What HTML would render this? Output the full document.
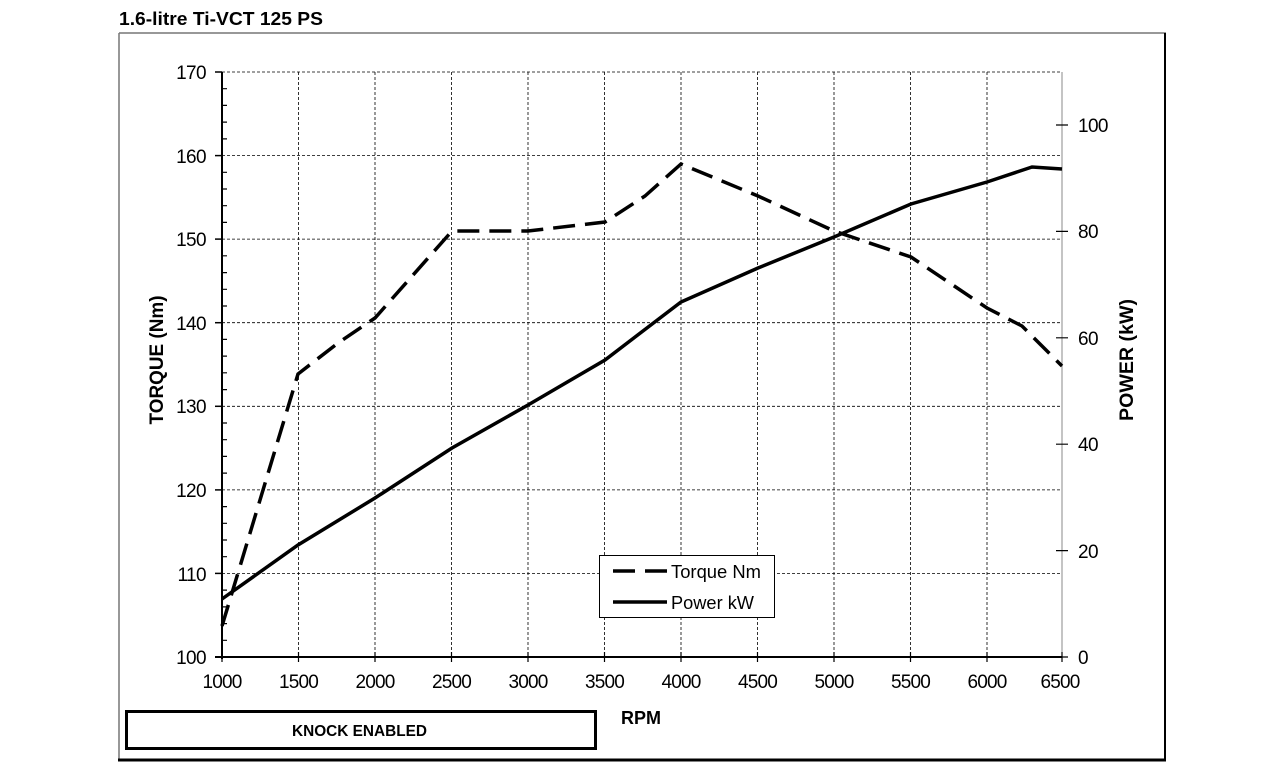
<!DOCTYPE html>
<html><head><meta charset="utf-8"><style>
body{margin:0;background:#fff;}
svg text{font-family:"Liberation Sans",Arial,sans-serif;}
</style></head><body>
<svg width="1272" height="775" viewBox="0 0 1272 775" xmlns="http://www.w3.org/2000/svg">
<rect width="1272" height="775" fill="#fff"/>
<text x="119" y="25" font-size="18" font-weight="bold" fill="#000" textLength="204" lengthAdjust="spacingAndGlyphs">1.6-litre Ti-VCT 125 PS</text>
<line x1="119" y1="33" x2="1166" y2="33" stroke="#777" stroke-width="1.5"/>
<line x1="119" y1="33" x2="119" y2="760" stroke="#777" stroke-width="1.5"/>
<line x1="1165" y1="33" x2="1165" y2="760" stroke="#000" stroke-width="2"/>
<line x1="118" y1="760" x2="1166" y2="760" stroke="#000" stroke-width="3"/>
<g stroke="#000" stroke-width="0.8" stroke-dasharray="3,2">
<line x1="298.5" y1="72" x2="298.5" y2="657"/><line x1="375" y1="72" x2="375" y2="657"/>
<line x1="451.5" y1="72" x2="451.5" y2="657"/><line x1="528" y1="72" x2="528" y2="657"/>
<line x1="604.5" y1="72" x2="604.5" y2="657"/><line x1="681" y1="72" x2="681" y2="657"/>
<line x1="757.5" y1="72" x2="757.5" y2="657"/><line x1="834" y1="72" x2="834" y2="657"/>
<line x1="910.5" y1="72" x2="910.5" y2="657"/><line x1="987" y1="72" x2="987" y2="657"/>
<line x1="222" y1="72" x2="1062" y2="72"/><line x1="222" y1="155.6" x2="1062" y2="155.6"/>
<line x1="222" y1="239.1" x2="1062" y2="239.1"/><line x1="222" y1="322.7" x2="1062" y2="322.7"/>
<line x1="222" y1="406.3" x2="1062" y2="406.3"/><line x1="222" y1="489.9" x2="1062" y2="489.9"/>
<line x1="222" y1="573.4" x2="1062" y2="573.4"/>
</g>
<line x1="1062" y1="72" x2="1062" y2="657" stroke="#888" stroke-width="1"/>
<line x1="222" y1="72" x2="222" y2="659" stroke="#000" stroke-width="2"/>
<line x1="215" y1="657" x2="1062" y2="657" stroke="#000" stroke-width="2"/>
<g stroke="#000" stroke-width="1.5">
<line x1="215" y1="72" x2="222" y2="72"/><line x1="215" y1="155.6" x2="222" y2="155.6"/><line x1="215" y1="239.1" x2="222" y2="239.1"/><line x1="215" y1="322.7" x2="222" y2="322.7"/><line x1="215" y1="406.3" x2="222" y2="406.3"/><line x1="215" y1="489.9" x2="222" y2="489.9"/><line x1="215" y1="573.4" x2="222" y2="573.4"/>
</g>
<g stroke="#000" stroke-width="1.2">
<path d="M222 88.7h5M222 105.4h5M222 122.1h5M222 138.9h5M222 172.3h5M222 189h5M222 205.7h5M222 222.4h5M222 255.8h5M222 272.6h5M222 289.3h5M222 306h5M222 339.4h5M222 356.1h5M222 372.8h5M222 389.6h5M222 423h5M222 439.7h5M222 456.4h5M222 473.1h5M222 506.6h5M222 523.3h5M222 540h5M222 556.7h5M222 590.1h5M222 606.9h5M222 623.6h5M222 640.3h5"/>
<path d="M222 652v10M298.5 652v10M375 652v10M451.5 652v10M528 652v10M604.5 652v10M681 652v10M757.5 652v10M834 652v10M910.5 652v10M987 652v10M1062 652v10"/>
<path d="M1056 125h12M1056 231.4h12M1056 337.8h12M1056 444.2h12M1056 550.6h12M1056 657h12"/>
</g>
<g font-size="19" fill="#000" text-anchor="end" letter-spacing="-0.6">
<text x="206" y="79">170</text><text x="206" y="163">160</text><text x="206" y="246">150</text><text x="206" y="330">140</text><text x="206" y="413">130</text><text x="206" y="497">120</text><text x="206" y="581">110</text><text x="206" y="664">100</text>
</g>
<g font-size="19" fill="#000" letter-spacing="-0.6">
<text x="1078" y="132">100</text><text x="1078" y="238">80</text><text x="1078" y="345">60</text><text x="1078" y="451">40</text><text x="1078" y="558">20</text><text x="1078" y="664">0</text>
</g>
<g font-size="19" fill="#000" text-anchor="middle" letter-spacing="-0.8">
<text x="222" y="688">1000</text><text x="298.5" y="688">1500</text><text x="375" y="688">2000</text><text x="451.5" y="688">2500</text><text x="528" y="688">3000</text><text x="604.5" y="688">3500</text><text x="681" y="688">4000</text><text x="757.5" y="688">4500</text><text x="834" y="688">5000</text><text x="910.5" y="688">5500</text><text x="987" y="688">6000</text><text x="1060" y="688">6500</text>
</g>
<text x="641" y="724" font-size="18" font-weight="bold" text-anchor="middle">RPM</text>
<text transform="translate(163,360) rotate(-90)" font-size="19" font-weight="bold" text-anchor="middle" textLength="129" lengthAdjust="spacingAndGlyphs">TORQUE (Nm)</text>
<text transform="translate(1133,360) rotate(-90)" font-size="19" font-weight="bold" text-anchor="middle" textLength="122" lengthAdjust="spacingAndGlyphs">POWER (kW)</text>
<polyline fill="none" stroke="#000" stroke-width="3.5" stroke-dasharray="22,10" points="222,626 298,374 338,343 375,318 452,231 528,231 605,222 645,196 681,164 758,196 834,231 911,257 987,308 1022,326 1062,366"/>
<polyline fill="none" stroke="#000" stroke-width="3.5" points="222,599 298,545 375,498 452,448 528,405 605,360 681,302 758,268 834,237 911,204 987,182 1032,167 1062,169"/>
<rect x="599.5" y="555.5" width="175" height="62" fill="#fff" stroke="#000" stroke-width="1"/>
<line x1="613" y1="571" x2="667" y2="571" stroke="#000" stroke-width="3.5" stroke-dasharray="22,10"/>
<line x1="613" y1="602" x2="667" y2="602" stroke="#000" stroke-width="3.5"/>
<text x="671" y="578" font-size="18" textLength="90" lengthAdjust="spacingAndGlyphs">Torque Nm</text>
<text x="671" y="609" font-size="18" textLength="83" lengthAdjust="spacingAndGlyphs">Power kW</text>
<rect x="126.5" y="711.5" width="469" height="37" fill="#fff" stroke="#000" stroke-width="3"/>
<text x="292" y="736" font-size="15.5" font-weight="bold" textLength="135" lengthAdjust="spacingAndGlyphs">KNOCK ENABLED</text>
</svg>
</body></html>
